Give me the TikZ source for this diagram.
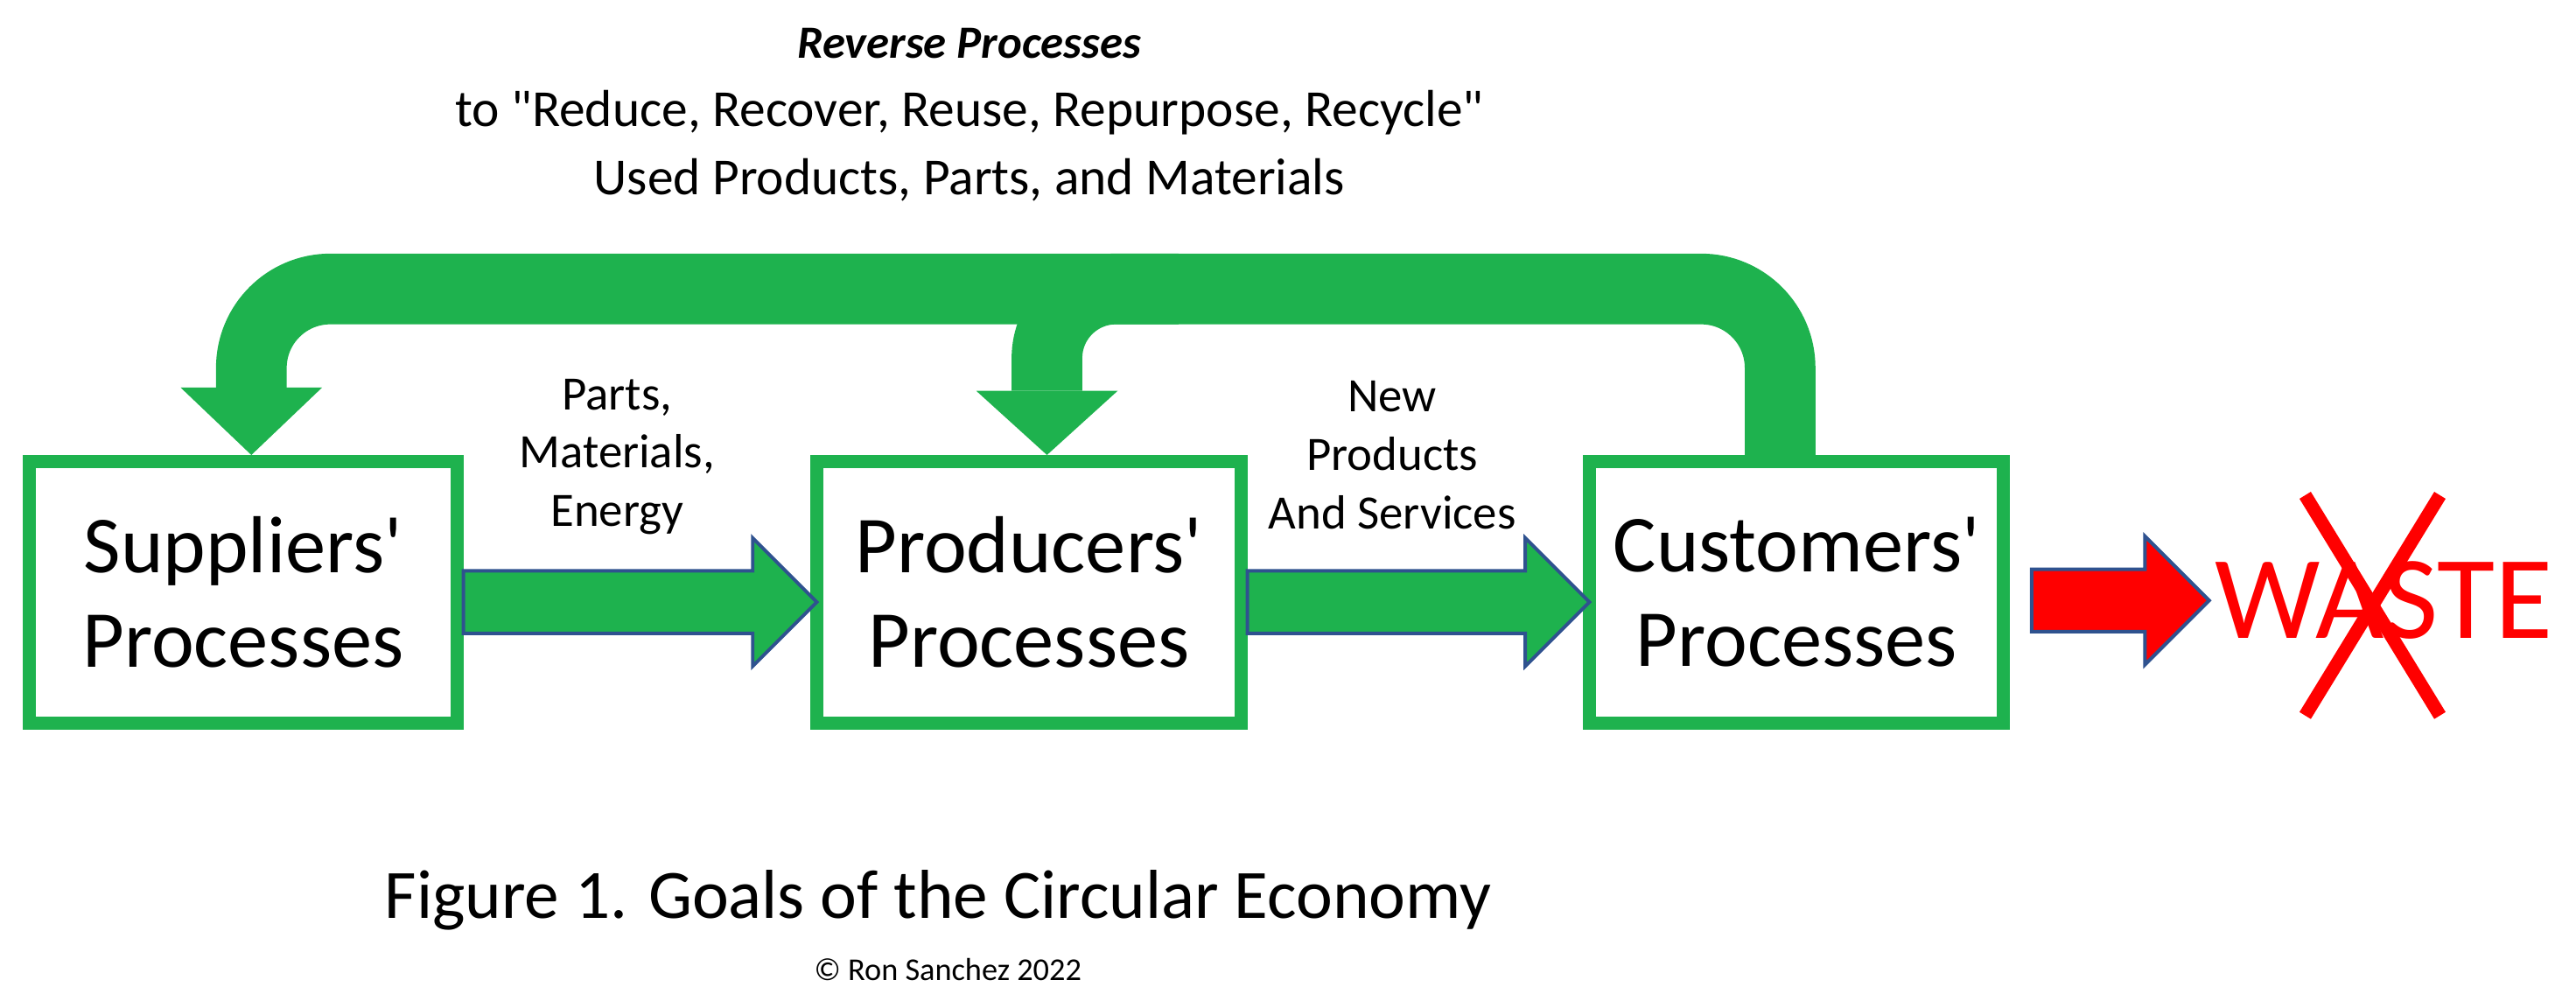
\documentclass[tikz,border=0pt]{standalone}
\usepackage{fontspec}
\setmainfont{Carlito}
\usepackage{tikz}
\usetikzlibrary{positioning, calc}
\definecolor{CEGreen}{RGB}{30, 178, 78}
\definecolor{CEEdge}{RGB}{47, 82, 143}
\definecolor{CERed}{RGB}{255, 0, 0}

\tikzset{
  procbox/.style={draw=CEGreen, line width=0.08cm, fill=white, minimum height=1.59cm,
    align=center, inner sep=0pt, font=\fontsize{14}{16.3}\selectfont},
  flowlabel/.style={align=center, font=\fontsize{8.3}{10.1}\selectfont},
  headtext/.style={align=center, font=\fontsize{9}{11.8}\selectfont},
  fwdarrow/.style={fill=CEGreen, draw=CEEdge, line width=0.6pt},
  wastearrow/.style={fill=CERed, draw=CEEdge, line width=0.6pt},
  loopband/.style={draw=CEGreen, line width=0.43cm, rounded corners=0.48cm},
  wastetext/.style={text=CERed, inner sep=0pt, font=\fontsize{20.5}{24}\selectfont},
}

% fat block arrow from #1 to tip #2
\newcommand{\blockarrow}[3]{%
  \draw[#3] ([yshift=0.19cm]#1) -- ([xshift=-0.39cm,yshift=0.19cm]#2)
    -- ([xshift=-0.39cm,yshift=0.39cm]#2) -- (#2)
    -- ([xshift=-0.39cm,yshift=-0.39cm]#2) -- ([xshift=-0.39cm,yshift=-0.19cm]#2)
    -- ([yshift=-0.19cm]#1) -- cycle;}

\begin{document}
\begin{tikzpicture}[x=0.01cm, y=-0.01cm]
    \path[use as bounding box] (0,0) rectangle (1568,609);

    % heading
    \node[headtext] (title) at (590,70) {{\fontsize{8}{11.8}\selectfont\bfseries\itshape Reverse Processes}\\
      to \textquotedbl Reduce, Recover, Reuse, Repurpose, Recycle\textquotedbl\\
      Used Products, Parts, and Materials};

    % the three process boxes
    \node[procbox, minimum width=2.60cm] (sup) at (148,360.5) {Suppliers\textquotesingle\\Processes};
    \node[procbox, minimum width=2.58cm, right=2.11cm of sup] (pro) {Producers\textquotesingle\\Processes};
    \node[procbox, minimum width=2.52cm, right=2.04cm of pro] (cus) {Customers\textquotesingle\\Processes};

    \node[wastetext, right=1.24cm of cus, yshift=-0.05cm] (waste) {WASTE};

    % reverse loop
    \coordinate (cusout) at ([xshift=-0.10cm]cus.north);
    \coordinate (suphead) at ([xshift=0.05cm,yshift=0.41cm]sup.north);
    \coordinate (prohead) at ([xshift=0.11cm,yshift=0.39cm]pro.north);
    \path (cusout) ++(0,1.01cm) coordinate (bandtop);
    \path (bandtop -| prohead) ++(0.8cm,0) coordinate (midjoin);
    \draw[loopband] (cusout) -- (bandtop) -| (suphead);
    \draw[loopband, rounded corners=0.42cm] (midjoin) -| (prohead);
    \fill[CEGreen] ([xshift=-0.43cm]suphead) -- ([xshift=0.43cm]suphead) -- (suphead |- sup.north) -- cycle;
    \fill[CEGreen] ([xshift=-0.43cm]prohead) -- ([xshift=0.43cm]prohead) -- (prohead |- pro.north) -- cycle;

    % forward flows
    \coordinate (a1s) at ([yshift=-0.06cm]sup.east);
    \coordinate (a1e) at ([xshift=0.04cm,yshift=-0.06cm]pro.west);
    \blockarrow{a1s}{a1e}{fwdarrow}
    \coordinate (a2s) at ([yshift=-0.06cm]pro.east);
    \coordinate (a2e) at ([xshift=0.04cm,yshift=-0.06cm]cus.west);
    \blockarrow{a2s}{a2e}{fwdarrow}

    \node[flowlabel] (l1) at ($(sup.east)!0.5!(pro.west)+(-0.12cm,0.825cm)$) {Parts,\\Materials,\\Energy};
    \node[flowlabel] (l2) at ($(pro.east)!0.5!(cus.west)+(-0.14cm,0.835cm)$) {New\\Products\\And Services};

    % to waste
    \path (cus.east |- waste.west) ++(0.13cm,0) coordinate (a3s);
    \path (waste.west) ++(-0.03cm,0) coordinate (a3e);
    \blockarrow{a3s}{a3e}{wastearrow}
    \draw[CERed, line width=2.3pt] ([xshift=-0.48cm,yshift=0.64cm]waste.center) -- ([xshift=0.34cm,yshift=-0.70cm]waste.center);
    \draw[CERed, line width=2.3pt] ([xshift=0.34cm,yshift=0.64cm]waste.center) -- ([xshift=-0.48cm,yshift=-0.70cm]waste.center);

    % caption
    \node[font=\fontsize{12}{14}\selectfont] (caption) at (571,548) {Figure 1. Goals of the Circular Economy};
    \node[font=\fontsize{5.5}{6.5}\selectfont] (copy) at (577,590) {© Ron Sanchez 2022};
\end{tikzpicture}
\end{document}
